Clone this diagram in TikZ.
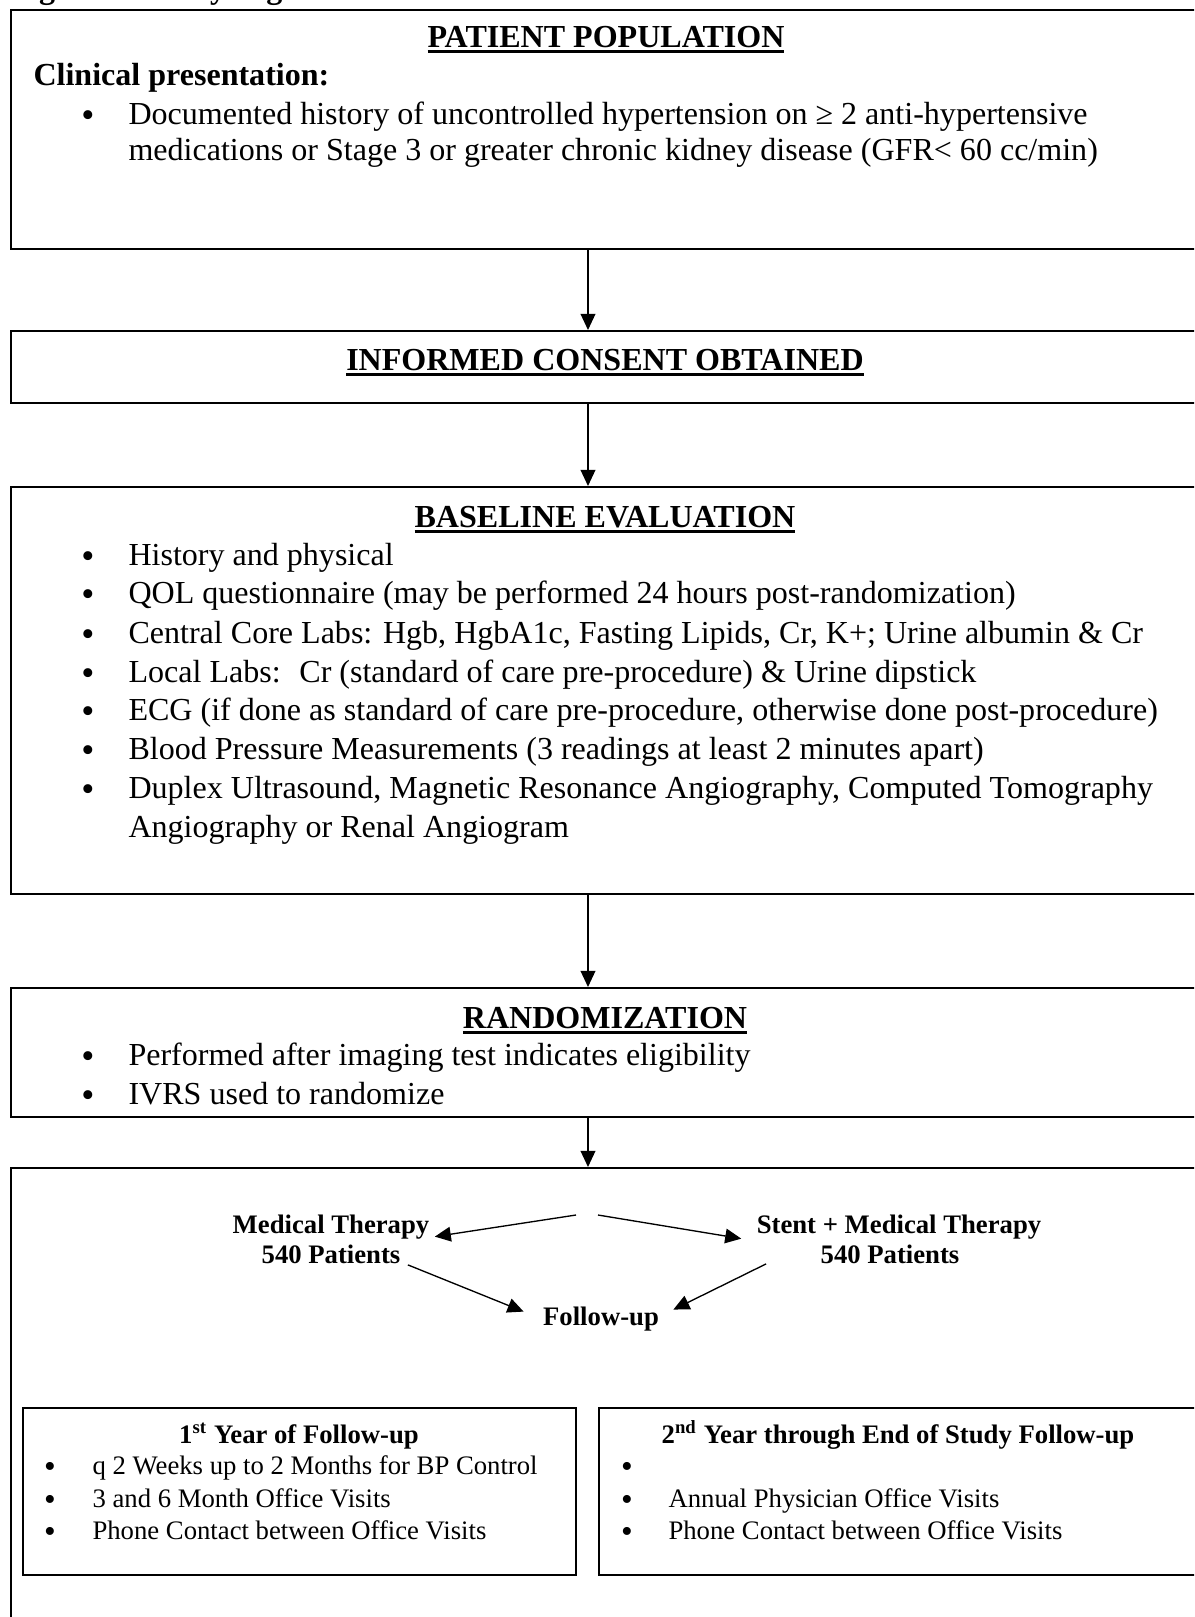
\documentclass[tikz,border=0pt]{standalone}
\usepackage{fontspec}
\setmainfont{Liberation Serif}
\usetikzlibrary{arrows.meta,calc}

\newsavebox{\headbox}
\newcommand{\ulhead}[1]{\sbox{\headbox}{#1}\rlap{\usebox{\headbox}}\rule[-2.3pt]{\wd\headbox}{1.2pt}}

\tikzset{
  flowbox/.style 2 args={draw,line width=0.6pt,inner sep=0pt,anchor=north west,minimum width=#1*0.3745pt,minimum height=#2*0.3745pt},
  flowarrow/.style={-{Triangle[length=6pt,width=5.5pt]},line width=0.5pt},
  bodytext/.style={anchor=base west,inner sep=0pt,font=\fontsize{12}{13.8}\selectfont},
  headtext/.style={anchor=base,inner sep=0pt,font=\fontsize{12}{13.8}\selectfont\bfseries},
  smalltext/.style={anchor=base west,inner sep=0pt,font=\fontsize{10}{11.5}\selectfont},
  smallhead/.style={anchor=base,inner sep=0pt,font=\fontsize{10}{11.5}\selectfont\bfseries},
  bulletmark/.style={anchor=base,inner sep=0pt,font=\fontsize{14}{14}\selectfont},
  smallbullet/.style={anchor=base,inner sep=0pt,font=\fontsize{12.5}{12.5}\selectfont},
}

\begin{document}
\begin{tikzpicture}[x=0.3745pt,y=-0.3745pt]
\useasboundingbox (0,0) rectangle (1194,1617);
\clip (0,0) rectangle (1194,1617);
\node[bodytext,font=\fontsize{12}{13.8}\selectfont\bfseries] (figtitle) at (10,-1.5) {Figure 1: Study Algorithm};

\node[flowbox={1205}{239},line width=0.9pt] (pop) at (10,9) {};
\node[flowbox={1205}{72}] (consent) at (10,330) {};
\node[flowbox={1205}{407}] (baseeval) at (10,486) {};
\node[flowbox={1205}{129}] (rand) at (10,987) {};
\node[flowbox={1205}{473}] (alloc) at (10,1167) {};
\node[flowbox={553}{167}] (yearone) at (22,1407) {};
\node[flowbox={617}{167}] (yeartwo) at (598,1407) {};

\coordinate (spine) at (588,0);
\draw[flowarrow] (pop.south -| spine) -- (consent.north -| spine);
\draw[flowarrow] (consent.south -| spine) -- (baseeval.north -| spine);
\draw[flowarrow] (baseeval.south -| spine) -- (rand.north -| spine);
\draw[flowarrow] (rand.south -| spine) -- (alloc.north -| spine);

\node[headtext] (pophead) at (606,47) {\ulhead{PATIENT POPULATION}};
\node[bodytext,font=\fontsize{12}{13.8}\selectfont\bfseries] (clinical) at (33,85) {Clinical presentation:};
\node[bulletmark] (popdot) at (88,127) {\textbullet};
\node[bodytext] (popline1) at (128,124) {Documented history of uncontrolled hypertension on ≥ 2 anti-hypertensive};
\node[bodytext] (popline2) at (128,160) {medications or Stage 3 or greater chronic kidney disease (GFR< 60 cc/min)};

\node[headtext] (consenthead) at (605,370) {\ulhead{INFORMED CONSENT OBTAINED}};

\node[headtext] (basehead) at (605,527) {\ulhead{BASELINE EVALUATION}};
\foreach \y/\entry [count=\i] in {565/History and physical,
  603/{QOL questionnaire (may be performed 24 hours post-randomization)},
  643/{Central Core Labs: Hgb, HgbA1c, Fasting Lipids, Cr, K+; Urine albumin \& Cr},
  682/{Local Labs:~ Cr (standard of care pre-procedure) \& Urine dipstick},
  720/{ECG (if done as standard of care pre-procedure, otherwise done post-procedure)},
  759/{Blood Pressure Measurements (3 readings at least 2 minutes apart)},
  798/{Duplex Ultrasound, Magnetic Resonance Angiography, Computed Tomography}}{
  \node[bulletmark] (basedot\i) at (88,\y+3) {\textbullet};
  \node[bodytext] (baseitem\i) at (128,\y) {\entry};
}
\node[bodytext] (baseitem7b) at (128,837) {Angiography or Renal Angiogram};

\node[headtext] (randhead) at (605,1028) {\ulhead{RANDOMIZATION}};
\node[bulletmark] (randdot1) at (88,1068) {\textbullet};
\node[bodytext] (randitem1) at (128,1065) {Performed after imaging test indicates eligibility};
\node[bulletmark] (randdot2) at (88,1107) {\textbullet};
\node[bodytext] (randitem2) at (128,1104) {IVRS used to randomize};

\node[smallhead] (medther) at (331,1233) {Medical Therapy};
\node[smallhead] (medpat) at (331,1263) {540 Patients};
\node[smallhead] (stentther) at (899,1233) {Stent + Medical Therapy};
\node[smallhead] (stentpat) at (890,1263) {540 Patients};
\node[smallhead] (followup) at (601,1325) {Follow-up};
\coordinate (splitL) at (576,1215);
\coordinate (splitR) at (598,1215);
\draw[flowarrow] (splitL) -- ($(medther.east)+(5,10)$);
\draw[flowarrow] (splitR) -- ($(stentther.west)+(-15,12)$);
\draw[flowarrow] ($(medpat.east)+(7,11)$) -- ($(followup.west)+(-19,-7)$);
\draw[flowarrow] ($(stentpat.west)+(-54,10)$) -- ($(followup.east)+(14,-9)$);

\node[smallhead] (yonehead) at (299,1443) {1\textsuperscript{st} Year of Follow-up};
\node[smallhead] (ytwohead) at (898,1443) {2\textsuperscript{nd} Year through End of Study Follow-up};
\foreach \y/\entry [count=\i] in {1474/q 2 Weeks up to 2 Months for BP Control,1507/3 and 6 Month Office Visits,1539/Phone Contact between Office Visits}{
  \node[smallbullet] (yonedot\i) at (50,\y+3) {\textbullet};
  \node[smalltext] (yoneitem\i) at (92,\y) {\entry};
}
\foreach \y/\entry [count=\i] in {1474/{},1507/Annual Physician Office Visits,1539/Phone Contact between Office Visits}{
  \node[smallbullet] (ytwodot\i) at (627,\y+3) {\textbullet};
  \node[smalltext] (ytwoitem\i) at (668,\y) {\entry};
}
\end{tikzpicture}
\end{document}
